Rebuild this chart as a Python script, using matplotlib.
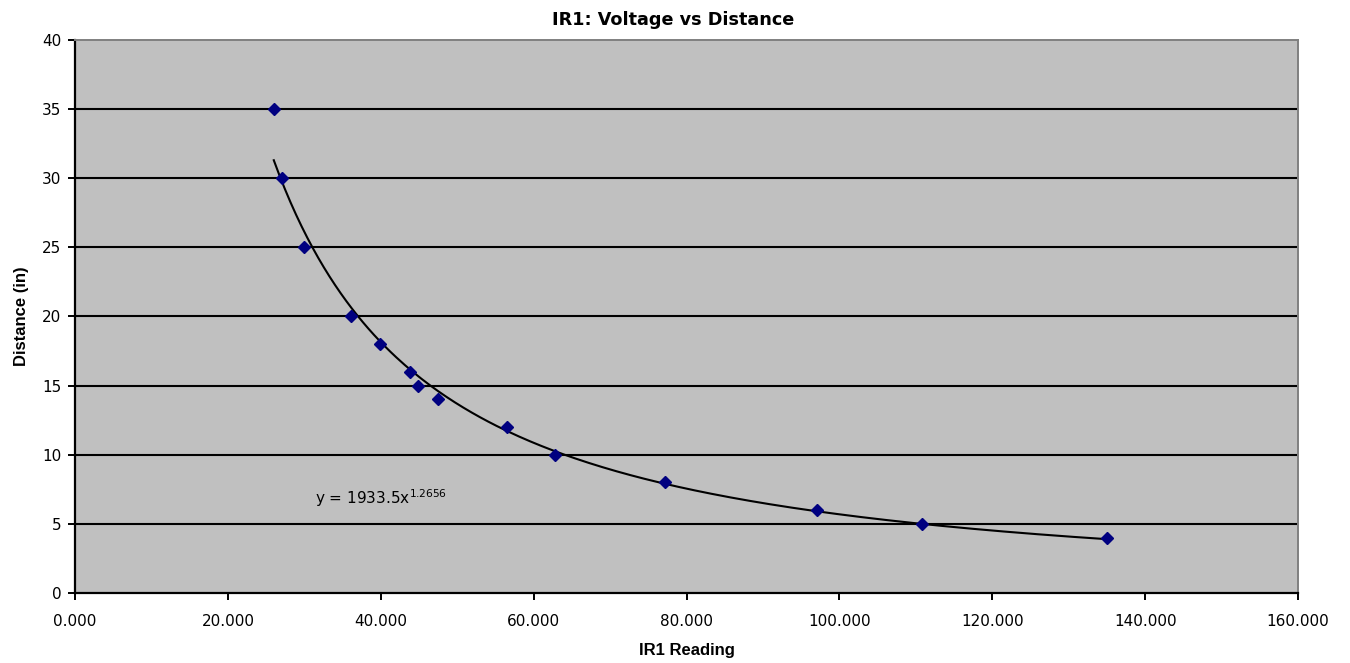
import numpy as np
import matplotlib.pyplot as plt
import matplotlib

# IR1 readings and measured distances
reading = [26.0, 27.1, 30.0, 36.1, 39.9, 43.8, 44.9, 47.5, 56.5, 62.8, 77.2, 97.1, 110.8, 135.0]
distance = [35, 30, 25, 20, 18, 16, 15, 14, 12, 10, 8, 6, 5, 4]

# power trendline coefficients (y = a * x^b)
coef_a = 1933.5
coef_b = -1.2656

xticks = [0, 20, 40, 60, 80, 100, 120, 140, 160]
yticks = [0, 5, 10, 15, 20, 25, 30, 35, 40]

matplotlib.rc('font', family='DejaVu Sans', size=11)

fig = plt.figure(figsize=(13.5, 6.63), dpi=100)
ax = fig.add_axes([0.0556, 0.1056, 0.9059, 0.8341])
ax.set_facecolor('#C0C0C0')

ax.set_xlim(0, 160)
ax.set_ylim(0, 40)
ax.set_xticks(xticks)
ax.set_xticklabels(['%.3f' % t for t in xticks])
ax.set_yticks(yticks)

for t in yticks[1:-1]:
    ax.axhline(t, color='k', lw=1.5, zorder=1)

xt = np.linspace(min(reading), max(reading), 300)
ax.plot(xt, coef_a * xt ** coef_b, color='k', lw=1.5, zorder=2)
ax.plot(reading, distance, linestyle='none', marker='D', markersize=6.5,
        color='#000080', zorder=3)

ax.text(31.4, 6.44, 'y = 1933.5x$^{1.2656}$', fontsize=11, va='baseline')

fig.text(0.4989, 0.970, 'IR1: Voltage vs Distance', fontsize=12.7,
         fontweight='bold', ha='center', va='center')
ax.set_xlabel('IR1 Reading', fontsize=12, fontweight='bold',
              family='Liberation Sans', labelpad=10)
ax.set_ylabel('Distance (in)', fontsize=12, fontweight='bold',
              family='Liberation Sans', labelpad=9)

for s in ['left', 'bottom']:
    ax.spines[s].set_color('k')
    ax.spines[s].set_linewidth(1.6)
for s in ['top', 'right']:
    ax.spines[s].set_color('#808080')
    ax.spines[s].set_linewidth(1.4)

ax.tick_params(direction='out', length=5, width=1.4, labelsize=11)
ax.tick_params(axis='x', pad=10)
ax.tick_params(axis='y', pad=5)

fig.savefig('out.png', dpi=100)
